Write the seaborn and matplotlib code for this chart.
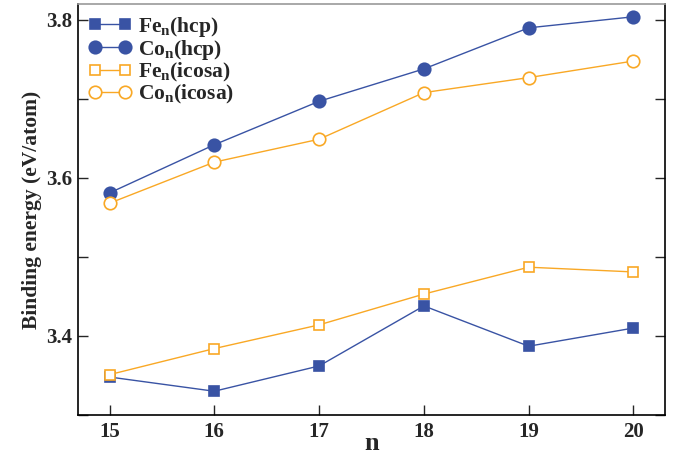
import matplotlib
matplotlib.use("Agg")
import matplotlib.pyplot as plt
from matplotlib.ticker import MultipleLocator
import seaborn as sns
import pandas as pd

sizes = [15, 16, 17, 18, 19, 20]
fe_hcp = [3.348, 3.330, 3.362, 3.438, 3.387, 3.410]
co_hcp = [3.581, 3.642, 3.697, 3.738, 3.790, 3.804]
fe_icosa = [3.351, 3.384, 3.414, 3.453, 3.487, 3.481]
co_icosa = [3.568, 3.620, 3.649, 3.708, 3.727, 3.748]

labels = [r"Fe$_{\mathbf{n}}$(hcp)", r"Co$_{\mathbf{n}}$(hcp)",
          r"Fe$_{\mathbf{n}}$(icosa)", r"Co$_{\mathbf{n}}$(icosa)"]

sns.set_theme(style="ticks")
plt.rcParams["font.family"] = ["Liberation Serif", "DejaVu Serif"]
plt.rcParams["font.weight"] = "bold"
plt.rcParams["mathtext.fontset"] = "custom"
plt.rcParams["mathtext.rm"] = "Liberation Serif:bold"
plt.rcParams["mathtext.bf"] = "Liberation Serif:bold"
plt.rcParams["mathtext.it"] = "Liberation Serif:bold"

blue = "#3953a4"
orange = "#f9a825"

fig = plt.figure(figsize=(6.73, 4.59), dpi=100)
ax = fig.add_axes([0.116, 0.096, 0.872, 0.895])

series = [
    (fe_hcp, labels[0], blue, "s", blue, 7.5),
    (co_hcp, labels[1], blue, "o", blue, 9),
    (fe_icosa, labels[2], orange, "s", "white", 7.5),
    (co_icosa, labels[3], orange, "o", "white", 9),
]
for vals, lab, col, mk, face, ms in series:
    df = pd.DataFrame({"n": sizes, "E": vals})
    sns.lineplot(data=df, x="n", y="E", ax=ax, color=col, marker=mk,
                 markersize=ms, markerfacecolor=face, markeredgecolor=col,
                 markeredgewidth=1.2, linewidth=1.0, label=lab)

ax.set_xlim(14.7, 20.3)
ax.set_ylim(3.3, 3.82)
ax.set_xticks(sizes)
ax.yaxis.set_major_locator(MultipleLocator(0.2))
ax.yaxis.set_minor_locator(MultipleLocator(0.1))
ax.tick_params(axis="both", which="both", direction="in", length=7, width=1.0,
               labelsize=15)
ax.tick_params(axis="y", which="both", right=True, pad=4)
ax.tick_params(axis="x", pad=5)
for t in ax.get_xticklabels() + ax.get_yticklabels():
    t.set_fontweight("bold")
for s in ax.spines.values():
    s.set_linewidth(1.2)
    s.set_color("black")
ax.spines["top"].set_color("#999999")

ax.set_xlabel("n", fontsize=19, fontweight="bold", labelpad=-7)
ax.set_ylabel("Binding energy (eV/atom)", fontsize=15.5, fontweight="bold", labelpad=3)

leg = ax.legend(loc="upper left", frameon=False, numpoints=2, fontsize=15.5,
                handlelength=2.0, handletextpad=0.3, labelspacing=-0.05,
                borderaxespad=0.3, borderpad=0.2)
for t in leg.get_texts():
    t.set_fontweight("bold")

fig.savefig("out.png", dpi=100)
